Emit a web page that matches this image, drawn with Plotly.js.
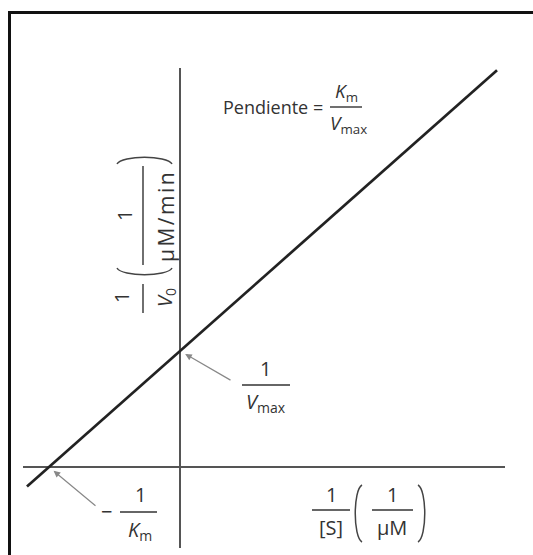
<!DOCTYPE html>
<html>
<head>
<meta charset="utf-8">
<script src="https://cdn.plot.ly/plotly-3.0.1.min.js"></script>
<style>
  html, body { margin: 0; padding: 0; background: #fff; overflow: hidden; }
  #wrap { position: relative; width: 533px; height: 555px; overflow: hidden; }
  #chart { width: 533px; height: 555px; }
  /* page frame: only the left and top edges fall inside the view */
  #frame { position: absolute; left: 8px; top: 11px; width: 600px; height: 600px;
           border-left: 3px solid #111; border-top: 3px solid #111; pointer-events: none; }
</style>
</head>
<body>
<div id="wrap">
  <div id="chart"></div>
  <div id="frame"></div>
</div>
<script>
// Lineweaver–Burk (double reciprocal) plot
const Km = 2;      // µM
const Vmax = 4;    // µM/min
const invS = [-0.584, 1.21];                            // 1/[S] span of the drawn line
const invV = invS.map(x => 1 / Vmax + (Km / Vmax) * x); // 1/V0

const W = 533, H = 555;
const M = { l: 23, r: 28, t: 68, b: 7 };
const PW = W - M.l - M.r, PH = H - M.t - M.b;
// pixel -> paper helpers for the decorative pieces
const px = v => (v - M.l) / PW;
const py = v => (H - M.b - v) / PH;

const ink = '#333';
const family = 'Open Sans, Noto Sans, sans-serif';
const f = s => ({ family: family, size: s, color: ink });

function txt(t, x, y, size, opts) {
  return Object.assign({
    text: t, xref: 'paper', yref: 'paper', x: px(x), y: py(y),
    xanchor: 'center', yanchor: 'middle', showarrow: false, font: f(size)
  }, opts || {});
}
function seg(x0, y0, x1, y1, color, width) {
  return { type: 'line', xref: 'paper', yref: 'paper',
    x0: px(x0), x1: px(x1), y0: py(y0), y1: py(y1),
    line: { color: color || ink, width: width || 1.4 } };
}
const hbar = (x0, x1, y) => seg(x0, y, x1, y);
const vbar = (x, y0, y1) => seg(x, y0, x, y1);
function curve(pts) {
  // start, two control points, end (pixels)
  const p = pts.map(([x, y]) => px(x).toFixed(5) + ',' + py(y).toFixed(5));
  return { type: 'path', xref: 'paper', yref: 'paper',
    path: 'M' + p[0] + ' C' + p[1] + ' ' + p[2] + ' ' + p[3],
    line: { color: '#444', width: 1.5 } };
}

const traces = [{
  x: invS, y: invV, type: 'scatter', mode: 'lines',
  line: { color: '#222', width: 2.7 }, hoverinfo: 'skip'
}];

const shapes = [
  // slope fraction
  hbar(330, 362, 107),
  // 1/Vmax
  hbar(242, 290, 385),
  // -1/Km
  hbar(120, 157, 512),
  // x-axis label
  hbar(312, 350, 510), hbar(372, 413, 510),
  curve([[362, 485], [353, 490], [353, 537], [362, 542]]),
  curve([[418, 485], [427, 490], [427, 537], [418, 542]]),
  // y-axis label
  vbar(143, 284, 313), vbar(143, 166, 265),
  curve([[117, 164], [122, 155], [167, 155], [172, 164]]),
  curve([[117, 268], [122, 277], [167, 277], [172, 268]])
];

const rot = { textangle: -90 };
const annotations = [
  txt('Pendiente =', 325, 107, 18, { xanchor: 'right' }),
  txt('<i>K</i><sub>m</sub>', 346, 92, 19),
  txt('<i>V</i><sub>max</sub>', 348, 124, 19),

  txt('1', 265, 368, 20),
  txt('<i>V</i><sub>max</sub>', 266, 402, 20),
  { x: 0, y: 1 / Vmax, xref: 'x', yref: 'y', text: '', showarrow: true,
    ax: 52, ay: 30, arrowhead: 2, arrowsize: 1.1, arrowwidth: 1.2,
    arrowcolor: '#888', standoff: 6 },

  txt('\u2212', 106, 511, 20),
  txt('1', 140, 494, 20),
  txt('<i>K</i><sub>m</sub>', 140, 530, 20),
  { x: -1 / Km, y: 0, xref: 'x', yref: 'y', text: '', showarrow: true,
    ax: 48, ay: 40, arrowhead: 2, arrowsize: 1.1, arrowwidth: 1.2,
    arrowcolor: '#888', standoff: 6 },

  txt('1', 331, 494, 20),
  txt('[S]', 331, 527, 20),
  txt('1', 392, 494, 20),
  txt('\u00b5M', 392, 527, 20),

  txt('1', 121, 298, 20, rot),
  txt('<i>V</i><sub>0</sub>', 165, 298, 20, rot),
  txt('1', 124, 216, 20, rot),
  txt('<span style="letter-spacing:2.5px">\u00b5M/min</span>', 166, 216, 21, rot)
];

const layout = {
  width: W, height: H,
  margin: M,
  paper_bgcolor: '#fff', plot_bgcolor: '#fff',
  showlegend: false,
  xaxis: {
    range: [-0.5992, 1.2405], showgrid: false, showticklabels: false,
    ticks: '', zeroline: true, zerolinecolor: '#555', zerolinewidth: 1.5,
    showline: false, fixedrange: true
  },
  yaxis: {
    range: [-0.1746, 0.8599], showgrid: false, showticklabels: false,
    ticks: '', zeroline: true, zerolinecolor: '#555', zerolinewidth: 1.5,
    showline: false, fixedrange: true
  },
  shapes: shapes,
  annotations: annotations
};

Plotly.newPlot('chart', traces, layout, { displayModeBar: false, staticPlot: true });
</script>
</body>
</html>
